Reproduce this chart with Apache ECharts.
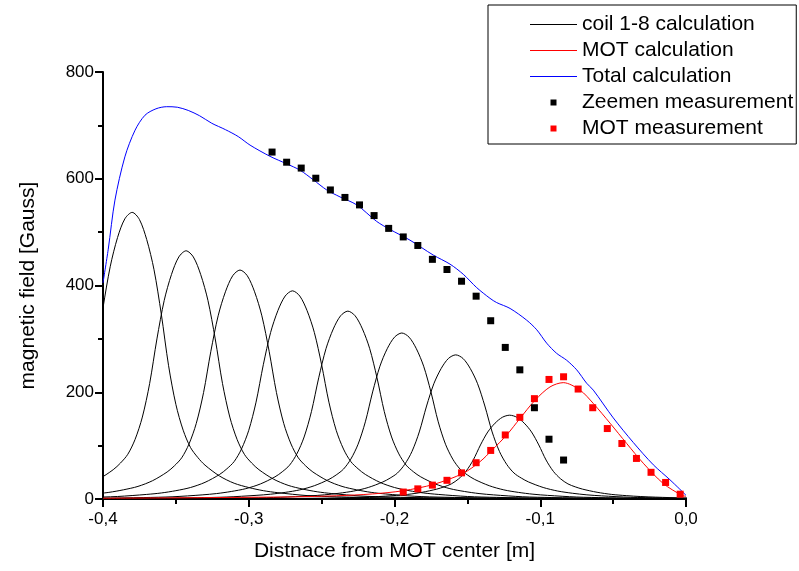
<!DOCTYPE html>
<html>
<head>
<meta charset="utf-8">
<script src="https://cdn.jsdelivr.net/npm/echarts@6/dist/echarts.min.js"></script>
<style>
html,body{margin:0;padding:0;background:#fff;}
#chart{width:799px;height:571px;}
</style>
</head>
<body>
<div id="chart"></div>
<script>
// ---- axis ticks ----
const xTickValues = [-0.4, -0.3, -0.2, -0.1, 0];
const xTickLabels = ['-0,4', '-0,3', '-0,2', '-0,1', '0,0'];
const yTickValues = [0, 200, 400, 600, 800];

// ---- coil 1-8 calculation curves [x (m), B (Gauss)] ----
const coil1 = [[-0.405,268],[-0.4,358],[-0.395,436],[-0.39,490],[-0.385,525],[-0.38,537],[-0.375,523.6],[-0.37,486],[-0.365,429.6],[-0.36,346.4],[-0.355,249.7],[-0.35,177.2],[-0.345,128.9],[-0.34,96.7],[-0.335,77.9],[-0.33,63.4],[-0.32,43],[-0.31,29.5],[-0.3,21.5],[-0.29,15.6],[-0.28,11.8],[-0.26,6.4],[-0.24,4.1],[-0.21,2.4],[-0.18,1.6],[-0.13,1.0],[-0.08,0.6],[0.02,0.3]];
const coil2 = [[-0.413,25.6],[-0.403,37.2],[-0.393,54.9],[-0.388,67.4],[-0.383,83.7],[-0.378,111.6],[-0.373,153.5],[-0.368,216.2],[-0.363,299.9],[-0.358,372],[-0.353,420.8],[-0.348,453.4],[-0.343,465],[-0.338,453.4],[-0.333,420.8],[-0.328,372],[-0.323,299.9],[-0.318,216.2],[-0.313,153.5],[-0.308,111.6],[-0.303,83.7],[-0.298,67.4],[-0.293,54.9],[-0.283,37.2],[-0.273,25.6],[-0.263,18.6],[-0.253,13.5],[-0.243,10.2],[-0.223,5.6],[-0.203,3.6],[-0.173,2.1],[-0.143,1.4],[-0.093,0.8],[-0.043,0.6],[0.057,0.3]];
const coil3 = [[-0.406,9.4],[-0.396,12.4],[-0.386,17.2],[-0.376,23.6],[-0.366,34.3],[-0.356,50.6],[-0.351,62.2],[-0.346,77.2],[-0.341,103],[-0.336,141.6],[-0.331,199.5],[-0.326,276.7],[-0.321,343.2],[-0.316,388.2],[-0.311,418.3],[-0.306,429],[-0.301,418.3],[-0.296,388.2],[-0.291,343.2],[-0.286,276.7],[-0.281,199.5],[-0.276,141.6],[-0.271,103],[-0.266,77.2],[-0.261,62.2],[-0.256,50.6],[-0.246,34.3],[-0.236,23.6],[-0.226,17.2],[-0.216,12.4],[-0.206,9.4],[-0.186,5.1],[-0.166,3.3],[-0.136,1.9],[-0.106,1.3],[-0.056,0.8],[-0.006,0.5],[0.094,0.3]];
const coil4 = [[-0.44,1.8],[-0.41,3.0],[-0.39,4.7],[-0.37,8.6],[-0.36,11.3],[-0.35,15.6],[-0.34,21.5],[-0.33,31.2],[-0.32,46],[-0.315,56.6],[-0.31,70.2],[-0.305,93.6],[-0.3,128.7],[-0.295,181.4],[-0.29,251.6],[-0.285,312],[-0.28,353],[-0.275,380.3],[-0.27,390],[-0.265,380.3],[-0.26,353],[-0.255,312],[-0.25,251.6],[-0.245,181.4],[-0.24,128.7],[-0.235,93.6],[-0.23,70.2],[-0.225,56.6],[-0.22,46],[-0.21,31.2],[-0.2,21.5],[-0.19,15.6],[-0.18,11.3],[-0.17,8.6],[-0.15,4.7],[-0.13,3.0],[-0.1,1.8],[-0.07,1.2],[-0.02,0.7],[0.03,0.5]];
const coil5 = [[-0.432,1.1],[-0.402,1.6],[-0.372,2.7],[-0.352,4.2],[-0.332,7.7],[-0.322,10.2],[-0.312,14.1],[-0.302,19.4],[-0.292,28.2],[-0.282,41.5],[-0.277,51],[-0.272,63.4],[-0.267,84.5],[-0.262,116.2],[-0.257,163.7],[-0.252,227],[-0.247,281.6],[-0.242,318.6],[-0.237,343.2],[-0.232,352],[-0.227,343.2],[-0.222,318.6],[-0.217,281.6],[-0.212,227],[-0.207,163.7],[-0.202,116.2],[-0.197,84.5],[-0.192,63.4],[-0.187,51],[-0.182,41.5],[-0.172,28.2],[-0.162,19.4],[-0.152,14.1],[-0.142,10.2],[-0.132,7.7],[-0.112,4.2],[-0.092,2.7],[-0.062,1.6],[-0.032,1.1],[0.018,0.6]];
const coil6 = [[-0.445,0.6],[-0.395,0.9],[-0.365,1.4],[-0.335,2.4],[-0.315,3.7],[-0.295,6.8],[-0.285,9.0],[-0.275,12.4],[-0.265,17.1],[-0.255,24.9],[-0.245,36.7],[-0.24,45.1],[-0.235,56],[-0.23,74.6],[-0.225,102.6],[-0.22,144.6],[-0.215,200.6],[-0.21,248.8],[-0.205,281.5],[-0.2,303.2],[-0.195,311],[-0.19,303.2],[-0.185,281.5],[-0.18,248.8],[-0.175,200.6],[-0.17,144.6],[-0.165,102.6],[-0.16,74.6],[-0.155,56],[-0.15,45.1],[-0.145,36.7],[-0.135,24.9],[-0.125,17.1],[-0.115,12.4],[-0.105,9.0],[-0.095,6.8],[-0.075,3.7],[-0.055,2.4],[-0.025,1.4],[0.005,0.9]];
const coil7 = [[-0.408,0.5],[-0.358,0.8],[-0.328,1.2],[-0.298,2.1],[-0.278,3.2],[-0.258,5.9],[-0.248,7.8],[-0.238,10.8],[-0.228,14.9],[-0.218,21.6],[-0.208,31.9],[-0.203,39.2],[-0.198,48.6],[-0.193,64.8],[-0.188,89.1],[-0.183,125.6],[-0.178,174.2],[-0.173,216],[-0.168,244.4],[-0.163,263.3],[-0.158,270],[-0.153,263.3],[-0.148,244.4],[-0.143,216],[-0.138,174.2],[-0.133,125.6],[-0.128,89.1],[-0.123,64.8],[-0.118,48.6],[-0.113,39.2],[-0.108,31.9],[-0.098,21.6],[-0.088,14.9],[-0.078,10.8],[-0.068,7.8],[-0.058,5.9],[-0.038,3.2],[-0.018,2.1],[0.012,1.2]];
const coil8 = [[-0.421,0.2],[-0.371,0.3],[-0.321,0.5],[-0.291,0.7],[-0.261,1.2],[-0.241,1.9],[-0.221,3.5],[-0.211,4.6],[-0.201,6.3],[-0.191,8.6],[-0.181,12.6],[-0.171,18.5],[-0.166,22.8],[-0.161,28.3],[-0.156,37.7],[-0.151,51.8],[-0.146,73],[-0.141,101.3],[-0.136,125.6],[-0.131,142.1],[-0.126,153.1],[-0.121,157],[-0.116,153.1],[-0.111,142.1],[-0.106,125.6],[-0.101,101.3],[-0.096,73],[-0.091,51.8],[-0.086,37.7],[-0.081,28.3],[-0.076,22.8],[-0.071,18.5],[-0.061,12.6],[-0.051,8.6],[-0.041,6.3],[-0.031,4.6],[-0.021,3.5],[-0.001,1.9],[0.019,1.2]];

// ---- MOT calculation ----
const motCalc = [[-0.4,1.5],[-0.35,2.2],[-0.3,3.2],[-0.27,4],[-0.24,6],[-0.215,9.5],[-0.194,15.5],[-0.173,27.5],[-0.153,48],[-0.1413,70],[-0.1333,91],[-0.123,120],[-0.1139,151],[-0.1036,185],[-0.0933,210],[-0.0842,218],[-0.0727,204],[-0.0636,179],[-0.0521,142],[-0.0407,104],[-0.0293,67],[-0.0156,29],[-0.003,7],[0,5]];

// ---- Total calculation ----
const totalCalc = [[-0.4,405],[-0.3964,468],[-0.3918,560],[-0.385,641],[-0.378,691],[-0.3712,719],[-0.3637,731],[-0.3563,735],[-0.349,734],[-0.3415,728],[-0.3337,718],[-0.3254,704],[-0.316,692],[-0.3072,679],[-0.2991,663],[-0.2854,642],[-0.274,628],[-0.2648,616],[-0.2557,598],[-0.2465,579],[-0.2374,566],[-0.2259,551],[-0.2122,520],[-0.2031,505],[-0.1894,485],[-0.1734,457],[-0.1619,440],[-0.1528,421],[-0.1436,396],[-0.1345,376],[-0.1299,368],[-0.1207,357],[-0.1093,335],[-0.1024,317],[-0.0956,292],[-0.0888,273],[-0.0819,260],[-0.075,242],[-0.0682,217],[-0.0636,204],[-0.0499,152],[-0.0362,106],[-0.0224,64],[-0.011,36],[0,7]];

// ---- Zeemen measurement ----
const zeemanX = [-0.284,-0.274,-0.264,-0.254,-0.244,-0.234,-0.224,-0.214,-0.204,-0.194,-0.184,-0.174,-0.164,-0.154,-0.144,-0.134,-0.124,-0.114,-0.104,-0.094,-0.084];
const zeemanY = [650,631,620,601,579,565,551,531,507,491,475,449,430,408,380,334,284,242,171,112,73];

// ---- MOT measurement ----
const motMeasX = [-0.194,-0.184,-0.174,-0.164,-0.154,-0.144,-0.134,-0.124,-0.114,-0.104,-0.094,-0.084,-0.074,-0.064,-0.054,-0.044,-0.034,-0.024,-0.014,-0.004];
const motMeasY = [13,19,26,35,49,68,91,120,153,188,224,229,206,171,132,104,76,50,31,9];

const FONT = "'Liberation Sans', Arial, sans-serif";
const coils = [coil1, coil2, coil3, coil4, coil5, coil6, coil7, coil8];

const coilSeries = coils.map(c => ({
  name: 'coil 1-8 calculation', type: 'line', data: c,
  symbol: 'none', smooth: 0.3, color: '#000000',
  lineStyle: {width: 1, color: '#000000'}, clip: true, z: 2
}));

const LINE_ICON = 'path://M0,0H47V1H0Z';
const SQUARE_ICON = 'path://M0,0H1V1H0Z';

const chart = echarts.init(document.getElementById('chart'), null, {renderer: 'canvas'});
chart.setOption({
  animation: false,
  backgroundColor: '#ffffff',
  grid: {left: 103, top: 72, right: 113, bottom: 72, containLabel: false},
  legend: {
    orient: 'vertical', left: 488, top: 5,
    padding: [9, 3, 5, 42],
    itemGap: 5, itemWidth: 47, itemHeight: 6,
    borderColor: '#000', borderWidth: 1, borderRadius: 0,
    selectedMode: false,
    symbolKeepAspect: true,
    itemStyle: {borderWidth: 0},
    textStyle: {fontSize: 21, fontFamily: FONT, color: '#000'},
    data: [
      {name: 'coil 1-8 calculation', icon: LINE_ICON},
      {name: 'MOT calculation', icon: LINE_ICON},
      {name: 'Total calculation', icon: LINE_ICON},
      {name: 'Zeemen measurement', icon: SQUARE_ICON},
      {name: 'MOT measurement', icon: SQUARE_ICON}
    ]
  },
  xAxis: {
    type: 'value', min: -0.4, max: 0, interval: 0.1,
    name: 'Distnace from MOT center [m]', nameLocation: 'middle', nameGap: 42,
    nameTextStyle: {fontSize: 21, fontFamily: FONT, color: '#000'},
    axisLine: {onZero: false, lineStyle: {color: '#000', width: 2}},
    axisTick: {show: true, inside: false, length: 8, lineStyle: {color: '#000', width: 2}},
    minorTick: {show: true, splitNumber: 2, length: 5, lineStyle: {color: '#000', width: 2}},
    splitLine: {show: false},
    axisLabel: {
      fontSize: 17, fontFamily: FONT, color: '#000', margin: 12,
      formatter: v => {
        const i = xTickValues.findIndex(t => Math.abs(t - v) < 1e-9);
        return i >= 0 ? xTickLabels[i] : '';
      }
    }
  },
  yAxis: {
    type: 'value', min: 0, max: 800, interval: 200,
    name: 'magnetic field [Gauss]', nameLocation: 'middle', nameGap: 64, nameRotate: 90,
    nameTextStyle: {fontSize: 21, fontFamily: FONT, color: '#000'},
    axisLine: {show: true, onZero: false, lineStyle: {color: '#000', width: 2}},
    axisTick: {show: true, inside: false, length: 8, lineStyle: {color: '#000', width: 2}},
    minorTick: {show: true, splitNumber: 2, length: 5, lineStyle: {color: '#000', width: 2}},
    splitLine: {show: false},
    axisLabel: {
      fontSize: 17, fontFamily: FONT, color: '#000', margin: 9,
      formatter: v => (yTickValues.indexOf(v) >= 0 ? String(v) : '')
    }
  },
  series: coilSeries.concat([
    {name: 'MOT calculation', type: 'line', data: motCalc, symbol: 'none', smooth: 0.3,
     color: '#ff0000', lineStyle: {width: 1, color: '#ff0000'}, z: 3},
    {name: 'Total calculation', type: 'line', data: totalCalc, symbol: 'none', smooth: 0.3,
     color: '#0000ff', lineStyle: {width: 1, color: '#0000ff'}, z: 3},
    {name: 'Zeemen measurement', type: 'scatter', symbol: 'rect', symbolSize: 7,
     color: '#000000', itemStyle: {color: '#000000', opacity: 1},
     data: zeemanX.map((x, i) => [x, zeemanY[i]]), z: 5},
    {name: 'MOT measurement', type: 'scatter', symbol: 'rect', symbolSize: 7,
     color: '#ff0000', itemStyle: {color: '#ff0000', opacity: 1},
     data: motMeasX.map((x, i) => [x, motMeasY[i]]), z: 5}
  ])
});
</script>
</body>
</html>
